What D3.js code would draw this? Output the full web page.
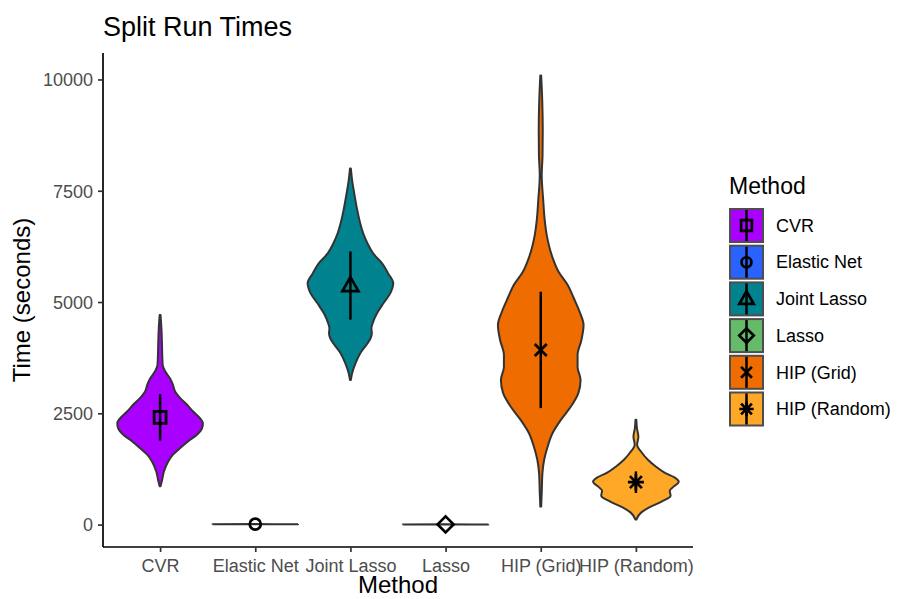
<!DOCTYPE html>
<html>
<head>
<meta charset="utf-8">
<script src="https://cdn.jsdelivr.net/npm/d3@7"></script>
<style>
  html, body { margin: 0; padding: 0; background: #ffffff; }
  svg { display: block; font-family: "Liberation Sans", Arial, Helvetica, sans-serif; }
</style>
</head>
<body>
<svg id="chart" width="897" height="599"></svg>
<script>
// Methods compared, in plotting order
const categories = ["CVR", "Elastic Net", "Joint Lasso", "Lasso", "HIP (Grid)", "HIP (Random)"];
const fills = ["#AA00FF", "#2962FF", "#00838F", "#66BB6A", "#EF6C00", "#FFA726"];
const shapes = ["square", "circle", "triangle", "diamond", "times", "asterisk"];

// Mean run time and standard deviation per method (seconds)
const means = [2410, 10, 5370, 4, 3924, 953];
const sds = [523, 3, 766, 2, 1307, 242];

// Violin outlines: [time in seconds, relative density (1 = widest)]
const cvrProfile = [[4709,0.01],[4430,0.03],[4186,0.04],[3587,0.06],[3437,0.12],[3289,0.23],[3139,0.30],[2989,0.35],[2841,0.47],[2691,0.63],[2540,0.77],[2392,0.93],[2280,1.0],[2168,0.98],[2018,0.86],[1868,0.65],[1720,0.47],[1570,0.30],[1419,0.19],[1195,0.09],[971,0.04],[859,0.01]];
const elasticNetProfile = [[15,0.01],[10,1],[5,0.01]];
const jointLassoProfile = [[7998,0.01],[7735,0.04],[7437,0.09],[7063,0.16],[6765,0.23],[6540,0.30],[6316,0.40],[6092,0.53],[5868,0.74],[5643,0.88],[5419,1.0],[5195,0.93],[4971,0.77],[4747,0.62],[4522,0.52],[4410,0.49],[4298,0.50],[4186,0.47],[4074,0.40],[3850,0.23],[3626,0.12],[3401,0.04],[3251,0.01]];
const lassoProfile = [[8,0.01],[4,1],[1,0.01]];
const hipGridProfile = [[10090,0.01],[9529,0.035],[8857,0.047],[8296,0.042],[7848,0.023],[7287,0.058],[6839,0.093],[6502,0.14],[6278,0.19],[5987,0.28],[5673,0.42],[5381,0.63],[5090,0.77],[4776,0.91],[4484,1.0],[4148,0.95],[3812,0.86],[3543,0.86],[3251,0.93],[2960,0.88],[2646,0.70],[2354,0.47],[2063,0.28],[1749,0.16],[1457,0.08],[1166,0.04],[717,0.023],[404,0.01]];
const hipRandomProfile = [[2354,0.01],[2175,0.023],[1973,0.058],[1794,0.028],[1614,0.14],[1457,0.28],[1300,0.47],[1166,0.67],[1054,0.91],[964,1.0],[852,0.88],[762,0.79],[650,0.81],[516,0.60],[381,0.30],[269,0.12],[112,0.01]];
const profiles = [cvrProfile, elasticNetProfile, jointLassoProfile, lassoProfile, hipGridProfile, hipRandomProfile];

const yTicks = [0, 2500, 5000, 7500, 10000];

const svg = d3.select("#chart");
const panel = { left: 103, right: 693, top: 53, bottom: 547 };

const x = d3.scalePoint()
  .domain(categories)
  .range([panel.left, panel.right])
  .padding(0.6);

// y domain = data range expanded by 5% on each side
const allValues = profiles.flat().map(d => d[0]);
const [vMin, vMax] = d3.extent(allValues);
const pad = (vMax - vMin) * 0.05;
const y = d3.scaleLinear()
  .domain([vMin - pad, vMax + pad])
  .range([panel.bottom, panel.top]);

const halfWidth = d3.scaleLinear().domain([0, 1]).range([0, x.step() * 0.45]);

// Violins
const violin = (cx) => d3.area()
  .y(d => y(d[0]))
  .x0(d => cx - halfWidth(d[1]))
  .x1(d => cx + halfWidth(d[1]))
  .curve(d3.curveMonotoneY);

const violins = svg.append("g");
categories.forEach((cat, i) => {
  violins.append("path")
    .datum(profiles[i])
    .attr("d", violin(x(cat)))
    .attr("fill", fills[i])
    .attr("stroke", "#333333")
    .attr("stroke-width", 2)
    .attr("stroke-linejoin", "round");
});

// Marker outlines centred on (0,0)
function markerPath(shape, k) {
  const p = d3.path();
  const s = 6 * k;
  switch (shape) {
    case "square":
      p.rect(-s, -s, 2 * s, 2 * s);
      break;
    case "circle":
      p.moveTo(5.5 * k, 0);
      p.arc(0, 0, 5.5 * k, 0, 2 * Math.PI);
      break;
    case "triangle":
      p.moveTo(0, -8.5 * k); p.lineTo(8 * k, 5.5 * k); p.lineTo(-8 * k, 5.5 * k); p.closePath();
      break;
    case "diamond":
      p.moveTo(0, -8 * k); p.lineTo(8 * k, 0); p.lineTo(0, 8 * k); p.lineTo(-8 * k, 0); p.closePath();
      break;
    case "times":
      p.moveTo(-s, -s); p.lineTo(s, s); p.moveTo(-s, s); p.lineTo(s, -s);
      break;
    case "asterisk":
      p.moveTo(-s, -s); p.lineTo(s, s); p.moveTo(-s, s); p.lineTo(s, -s);
      p.moveTo(0, -8 * k); p.lineTo(0, 8 * k); p.moveTo(-8 * k, 0); p.lineTo(8 * k, 0);
      break;
  }
  return p.toString();
}

// Mean ± SD point ranges
const ranges = svg.append("g");
categories.forEach((cat, i) => {
  const cx = x(cat);
  ranges.append("line")
    .attr("x1", cx).attr("x2", cx)
    .attr("y1", y(means[i] - sds[i])).attr("y2", y(means[i] + sds[i]))
    .attr("stroke", "#000").attr("stroke-width", 2.5);
  ranges.append("path")
    .attr("transform", `translate(${cx},${y(means[i])})`)
    .attr("d", markerPath(shapes[i], 1))
    .attr("fill", "none")
    .attr("stroke", "#000")
    .attr("stroke-width", 2.7);
});

// Axes
const yAxis = svg.append("g")
  .attr("transform", `translate(${panel.left},0)`)
  .call(d3.axisLeft(y).tickValues(yTicks).tickFormat(d3.format("d")).tickSize(5).tickPadding(5).tickSizeOuter(0));
yAxis.select(".domain").attr("d", `M0,${panel.top}V${panel.bottom}`).attr("stroke", "#000").attr("stroke-width", 1.7);

const xAxis = svg.append("g")
  .attr("transform", `translate(0,${panel.bottom})`)
  .call(d3.axisBottom(x).tickSize(5).tickPadding(6).tickSizeOuter(0));
xAxis.select(".domain").attr("d", `M${panel.left},0H${panel.right}`).attr("stroke", "#000").attr("stroke-width", 1.7);

[xAxis, yAxis].forEach(g => {
  g.selectAll(".tick line").attr("stroke", "#333333").attr("stroke-width", 1.7);
  g.selectAll(".tick text")
    .attr("fill", "#4D4D4D")
    .style("font-size", "18px")
    .style("font-family", "\"Liberation Sans\", Arial, sans-serif");
});
yAxis.selectAll(".tick text").attr("dy", "0.35em");
xAxis.selectAll(".tick text").attr("dy", "0.75em");

// Titles
svg.append("text")
  .attr("x", panel.left).attr("y", 36)
  .attr("font-size", 27).attr("fill", "#000")
  .text("Split Run Times");

svg.append("text")
  .attr("x", (panel.left + panel.right) / 2).attr("y", 593)
  .attr("text-anchor", "middle")
  .attr("font-size", 24).attr("fill", "#000")
  .text("Method");

svg.append("text")
  .attr("transform", `translate(30,${(panel.top + panel.bottom) / 2}) rotate(-90)`)
  .attr("text-anchor", "middle")
  .attr("font-size", 24).attr("fill", "#000")
  .text("Time (seconds)");

// Legend
const legend = svg.append("g").attr("transform", "translate(729,0)");
legend.append("text")
  .attr("x", 0).attr("y", 194)
  .attr("font-size", 23).attr("fill", "#000")
  .text("Method");

const keySize = 35, keyStep = 36.7, keyTop = 208;
categories.forEach((cat, i) => {
  const ky = keyTop + i * keyStep;
  const k = legend.append("g").attr("transform", `translate(0,${ky})`);
  k.append("rect")
    .attr("x", 1).attr("y", 1)
    .attr("width", keySize - 2).attr("height", keySize - 2)
    .attr("fill", fills[i])
    .attr("stroke", "#4D4D4D").attr("stroke-width", 2);
  k.append("line")
    .attr("x1", keySize / 2).attr("x2", keySize / 2)
    .attr("y1", 2).attr("y2", keySize - 2)
    .attr("stroke", "#000").attr("stroke-width", 2.5);
  k.append("path")
    .attr("transform", `translate(${keySize / 2},${keySize / 2})`)
    .attr("d", markerPath(shapes[i], 0.9))
    .attr("fill", "none")
    .attr("stroke", "#000").attr("stroke-width", 2.7);
  k.append("text")
    .attr("x", 47).attr("y", keySize / 2)
    .attr("dy", "0.35em")
    .attr("font-size", 18).attr("fill", "#000")
    .text(cat);
});
</script>
</body>
</html>
